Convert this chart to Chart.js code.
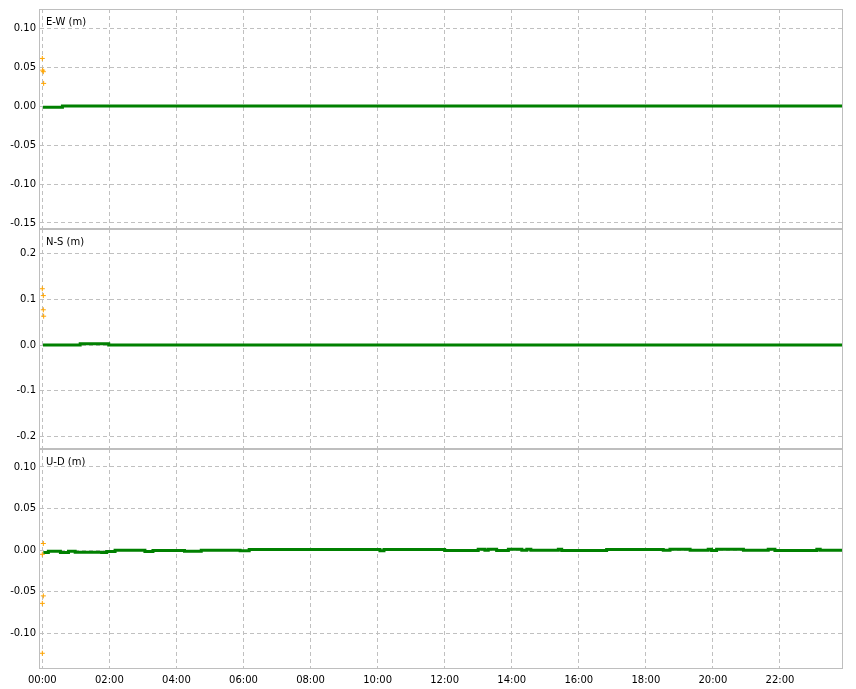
<!DOCTYPE html>
<html><head><meta charset="utf-8">
<script src="https://cdn.jsdelivr.net/npm/chart.js@4.4.1/dist/chart.umd.min.js"></script>
<style>
html,body{margin:0;padding:0;background:#fff;width:856px;height:689px;overflow:hidden}
canvas{position:absolute;left:0}
</style></head><body>
<canvas id="c1" width="856" height="229" style="top:0;width:856px;height:229px"></canvas>
<canvas id="c2" width="856" height="220" style="top:229px;width:856px;height:220px"></canvas>
<canvas id="c3" width="856" height="240" style="top:449px;width:856px;height:240px"></canvas>
<script>
// ---- data (hours of day, metres) ----
const timeTicks = [0, 2, 4, 6, 8, 10, 12, 14, 16, 18, 20, 22];
const ewTicks = [-0.15, -0.10, -0.05, 0.00, 0.05, 0.10];
const nsTicks = [-0.2, -0.1, 0.0, 0.1, 0.2];
const udTicks = [-0.10, -0.05, 0.00, 0.05, 0.10];

const ewTimes  = [0.02, 0.60, 23.88];
const ewValues = [-0.0015, 0.0, 0.0];
const ewOutTimes  = [0.00, 0.01, 0.03, 0.04];
const ewOutValues = [0.061, 0.046, 0.044, 0.029];

const nsTimes  = [0.02, 1.13, 1.98, 23.88];
const nsValues = [0.0, 0.0025, 0.0, 0.0];
const nsOutTimes  = [0.00, 0.03, 0.03, 0.04];
const nsOutValues = [0.123, 0.108, 0.077, 0.063];

const udTimes  = [0.03, 0.18, 0.54, 0.78, 0.98, 1.77, 1.92, 2.17, 3.06, 3.30, 4.24, 4.74, 5.90, 6.17, 10.07, 10.19, 12.00, 13.00, 13.20, 13.30, 13.55, 13.90, 14.30, 14.45, 14.57, 15.39, 15.49, 16.83, 18.52, 18.72, 19.32, 19.86, 19.96, 20.11, 20.91, 21.65, 21.85, 23.10, 23.20, 23.88];
const udValues = [-0.0028, -0.0012, -0.0028, -0.0012, -0.0024, -0.0028, -0.0016, 0.0, -0.0016, -0.0004, -0.0012, 0.0, -0.0008, 0.0008, -0.0008, 0.0008, -0.0004, 0.0012, 0.0, 0.0012, -0.0004, 0.0012, 0.0, 0.0012, 0.0, 0.0012, -0.0004, 0.0008, 0.0, 0.0012, 0.0, 0.0012, -0.0004, 0.0012, 0.0, 0.0012, -0.0004, 0.0012, 0.0, 0.0];
const udOutTimes  = [0.03, 0.00, 0.03, 0.00, 0.00];
const udOutValues = [0.008, -0.005, -0.055, -0.064, -0.124];

const FONT = {family: "'DejaVu Sans', sans-serif", size: 10};
const GRID = 'rgb(192,192,192)';
const FRAME = 'rgb(190,190,190)';

function pts(xs, ys) { return xs.map((x, i) => ({x: x, y: ys[i]})); }

function makeChart(id, opts) {
  const framePlugin = {
    id: 'frame_' + id,
    afterDraw(chart) {
      const a = chart.chartArea, ctx = chart.ctx;
      ctx.save();
      ctx.strokeStyle = FRAME;
      ctx.lineWidth = 1;
      ctx.strokeRect(a.left - 0.5, a.top + 0.5, a.right - a.left, a.bottom - a.top - 1);
      ctx.fillStyle = '#000';
      ctx.font = "10px 'DejaVu Sans', sans-serif";
      ctx.textBaseline = 'middle';
      ctx.textAlign = 'left';
      ctx.fillText(opts.title, a.left + 6, a.top + 13);
      ctx.restore();
    }
  };
  return new Chart(document.getElementById(id), {
    type: 'line',
    data: {
      datasets: [
        {data: pts(opts.outT, opts.outV), showLine: false, borderColor: '#FFA500', backgroundColor: '#FFA500',
         pointStyle: 'cross', pointRadius: 2.5, pointBorderWidth: 1, order: 0},
        {data: pts(opts.t, opts.v), borderColor: '#008000', borderWidth: 3, pointRadius: 0, stepped: true, fill: false, order: 1}
      ]
    },
    options: {
      responsive: false, animation: false, devicePixelRatio: 1,
      layout: {autoPadding: false, padding: {top: opts.padTop, right: 13, bottom: 0, left: 0}},
      plugins: {legend: {display: false}, tooltip: {enabled: false}},
      scales: {
        x: {
          type: 'linear', min: -0.069, max: 23.88,
          afterBuildTicks(s) { s.ticks = timeTicks.map(v => ({value: v})); },
          afterFit(s) { s.height = opts.showX ? 20 : 0; s.paddingLeft = 0; s.paddingRight = 0; },
          grid: {color: GRID, drawTicks: false},
          border: {display: false, dash: [4, 3]},
          ticks: {display: opts.showX, font: FONT, color: '#000', padding: 5, maxRotation: 0, autoSkip: false,
                  callback: v => String(v).padStart(2, '0') + ':00'}
        },
        y: {
          type: 'linear', min: opts.min, max: opts.max,
          afterBuildTicks(s) { s.ticks = opts.ticks.map(v => ({value: v})); },
          afterFit(s) { s.width = 40; s.paddingTop = 0; s.paddingBottom = 0; },
          grid: {color: GRID, drawTicks: false},
          border: {display: false, dash: [4, 3]},
          ticks: {font: FONT, color: '#000', padding: 4, callback: v => v.toFixed(opts.dec)}
        }
      }
    },
    plugins: [framePlugin]
  });
}

makeChart('c1', {title: 'E-W (m)', t: ewTimes, v: ewValues, outT: ewOutTimes, outV: ewOutValues,
  min: -0.1577, max: 0.1244, ticks: ewTicks, dec: 2, padTop: 9, showX: false});
makeChart('c2', {title: 'N-S (m)', t: nsTimes, v: nsValues, outT: nsOutTimes, outV: nsOutValues,
  min: -0.2273, max: 0.2536, ticks: nsTicks, dec: 1, padTop: 0, showX: false});
makeChart('c3', {title: 'U-D (m)', t: udTimes, v: udValues, outT: udOutTimes, outV: udOutValues,
  min: -0.1429, max: 0.1216, ticks: udTicks, dec: 2, padTop: 0, showX: true});
</script>
</body></html>
